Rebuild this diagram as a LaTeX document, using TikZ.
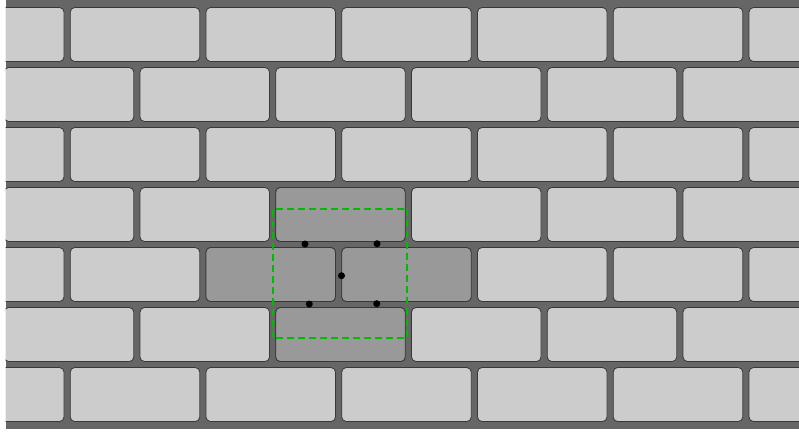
\documentclass[tikz,border=0pt]{standalone}
\usepackage{tikz}
\usetikzlibrary{calc}
\definecolor{MORTAR}{HTML}{666666}
\definecolor{BRICK}{HTML}{CCCCCC}
\definecolor{SEL}{HTML}{999999}
\definecolor{EDGE}{HTML}{383838}
\definecolor{GREEN}{HTML}{00BB00}

\begin{document}
\begin{tikzpicture}[x=1pt,y=-1pt]
\tikzset{brick/.style={fill=BRICK,draw=EDGE,line width=0.8pt,rounded corners=4.5pt},
 selbrick/.style={brick,fill=SEL},
 window/.style={draw=GREEN,dash pattern=on 7pt off 4pt,line width=1.8pt},
 pt/.style={circle,fill=black,inner sep=0pt,minimum size=7pt}}
\useasboundingbox (0,0) rectangle (799,432);
\fill[white] (0,0) rectangle (799,432);
\begin{scope}
\clip (5.5,0) rectangle (799,428.5);
\fill[MORTAR] (5.5,0) rectangle (799,428.5);
% long rows and shifted rows
\foreach \r in {0,2,4,6}{
  \foreach \k in {0,...,6}{
    \draw[brick] ({-65.5+135.75*\k},{7.5+60*\r}) rectangle ++(129.5,54);
  }}
\foreach \r in {1,3,5}{
  \foreach \k in {0,...,5}{
    \draw[brick] ({4.25+135.75*\k},{7.5+60*\r}) rectangle ++(129.5,54);
  }}
% marked bricks
\draw[selbrick] (275.75,187.5) rectangle ++(129.5,54);
\draw[selbrick] (206,247.5) rectangle ++(129.5,54);
\draw[selbrick] (341.75,247.5) rectangle ++(129.5,54);
\draw[selbrick] (275.75,307.5) rectangle ++(129.5,54);
\end{scope}
% green window
\coordinate (w1) at (273,208.7);
\coordinate (w2) at (407,208.7);
\coordinate (w3) at (407,337.7);
\coordinate (w4) at (273,337.7);
\draw[window] (w4) -- (w1) -- (w2);
\draw[window] (w2) -- (w3) -- (w4);
\node[pt] (d1) at (305,244) {};
\node[pt] (d2) at (377,243.7) {};
\node[pt] (d3) at (341.5,275.7) {};
\node[pt] (d4) at (309.3,304) {};
\node[pt] (d5) at (376.7,303.7) {};
\end{tikzpicture}
\end{document}
